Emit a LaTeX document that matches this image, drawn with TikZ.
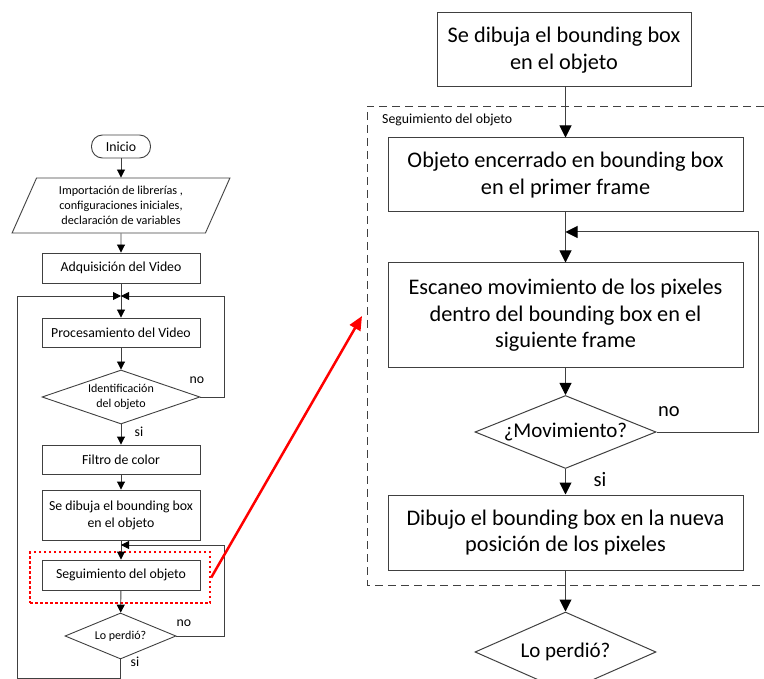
\documentclass[tikz,border=0pt]{standalone}
\usepackage{fontspec}
\setmainfont{Carlito}
\usetikzlibrary{arrows.meta,shapes.geometric}

\definecolor{ln}{HTML}{404040}
\definecolor{hl}{HTML}{FF0000}

\begin{document}
\begin{tikzpicture}[x=1pt,y=-1pt,
  lbox/.style={draw=ln, line width=0.9pt, rectangle, minimum width=158pt,
    align=center, inner sep=0pt, font=\fontsize{13.8}{17}\selectfont},
  ldia/.style={draw=ln, line width=0.9pt, diamond, aspect=3, inner sep=0pt,
    align=center, font=\fontsize{12}{15}\selectfont},
  rbox/.style={draw=ln, line width=1pt, rectangle, minimum width=355pt,
    align=center, inner sep=0pt, font=\fontsize{22.3}{26.5}\selectfont},
  rdia/.style={draw=ln, line width=1pt, diamond, aspect=2.5, inner sep=0pt,
    align=center, font=\fontsize{21}{25}\selectfont},
  larr/.style={draw=ln, line width=0.9pt, -{Triangle[length=8pt,width=8pt,fill=black,color=black]}},
  rarr/.style={draw=ln, line width=1pt, -{Triangle[length=12pt,width=12pt,fill=black,color=black]}},
  llbl/.style={font=\fontsize{13.8}{16}\selectfont, inner sep=0pt},
  rlbl/.style={font=\fontsize{20.5}{24}\selectfont, inner sep=0pt},
  focusbox/.style={draw=hl, line width=2.5pt, dash pattern=on 2.5pt off 2.5pt,
    rectangle, inner sep=0pt},
  zoomarr/.style={draw=hl, line width=2.5pt, -{Triangle[length=14pt,width=12pt]}},
  frame/.style={draw=ln, line width=0.9pt, dash pattern=on 8pt off 5pt}
]
\useasboundingbox (0,0) rectangle (764,679);

% ---------- overall flow ----------
\node[draw=ln, line width=0.9pt, rectangle, rounded corners=11pt,
  minimum width=59pt, minimum height=23pt, inner sep=0pt,
  font=\fontsize{13.8}{16}\selectfont] (inicio) at (121,146.5) {Inicio};
\node[draw=ln, line width=0.9pt, trapezium, trapezium left angle=65,
  trapezium right angle=115, trapezium stretches=true,
  minimum width=218pt, minimum height=55pt, inner sep=0pt, align=center,
  font=\fontsize{12.2}{15}\selectfont] (imp) at (121,205.5)
  {Importación de librerías ,\\ configuraciones iniciales,\\ declaración de variables};
\node[lbox, minimum height=30pt] (adq) at (121,268) {Adquisición del Video};
\node[lbox, minimum height=29pt] (proc) at (121,332.5) {Procesamiento del Video};
\node[ldia, minimum width=158pt, minimum height=54pt] (ident) at (121,397)
  {Identificación\\ del objeto};
\node[lbox, minimum height=29pt] (filtro) at (121,459.5) {Filtro de color};
\node[lbox, minimum height=50pt] (sedib) at (121,515) {Se dibuja el bounding box\\ en el objeto};
\node[lbox, minimum height=30pt] (seg) at (121,575) {Seguimiento del objeto};
\node[ldia, minimum width=111pt, minimum height=46pt] (lost) at (120.5,636) {Lo perdió?};
\node[focusbox, minimum width=180pt, minimum height=51pt] (focus) at (120,577.5) {};

\coordinate (m1) at (121,296);
\coordinate (m2) at (121,545);
\coordinate (lb) at (17,678);

\draw[larr] (inicio) -- (imp);
\draw[larr] (imp) -- (adq);
\draw[larr] (adq) -- (proc);
\draw[larr] (proc) -- (ident);
\draw[larr] (ident.east) -- ++(24,0) |- (m1);
\draw[larr] (ident) -- (filtro);
\draw[larr] (filtro) -- (sedib);
\draw[larr] (sedib) -- (seg);
\draw[larr] (seg) -- (lost);
\draw[larr] (lost.east) -- ++(47.5,0) |- (m2);
\draw[larr] (lost.south) |- (lb) |- (m1);

\node[llbl] (no1) at (197,380) {no};
\node[llbl] (si1) at (139,432) {si};
\node[llbl] (no2) at (184,623) {no};
\node[llbl] (si2) at (135,662) {si};

% ---------- detail of the tracking step ----------
\node[rbox, minimum width=254pt, minimum height=74pt] (top) at (564,50)
  {Se dibuja el bounding box\\ en el objeto};
\draw[frame] (764,106) -- (367,106) -- (367,585) -- (764,585);
\node[anchor=west, inner sep=0pt, font=\fontsize{13.8}{16}\selectfont] (flabel)
  at (382,120) {Seguimiento del objeto};
\node[rbox, minimum height=74pt] (obj) at (565.5,175)
  {Objeto encerrado en bounding box\\ en el primer frame};
\node[rbox, minimum height=105pt] (esc) at (565.5,315.5)
  {Escaneo movimiento de los pixeles\\ dentro del bounding box en el\\ siguiente frame};
\node[rdia, minimum width=181pt, minimum height=73pt] (mov) at (565.5,432) {¿Movimiento?};
\node[rbox, minimum height=75pt] (dib) at (565.5,532.5)
  {Dibujo el bounding box en la nueva\\ posición de los pixeles};
\node[rdia, minimum width=181pt, minimum height=80pt] (lost2) at (565.5,652) {Lo perdió?};

\coordinate (m3) at (565.5,232);

\draw[rarr] (top.south -| obj.north) -- (obj);
\draw[rarr] (obj) -- (esc);
\draw[rarr] (esc) -- (mov);
\draw[rarr] (mov.east) -- ++(102,0) |- (m3);
\draw[rarr] (mov) -- (dib);
\draw[rarr] (dib) -- (lost2);

\node[rlbl] (no3) at (669,412) {no};
\node[rlbl] (si3) at (600,480) {si};

% ---------- pointer from the step to its detail ----------
\coordinate (zt) at (362,316);
\draw[zoomarr] (focus.east) -- (zt);
\end{tikzpicture}
\end{document}
